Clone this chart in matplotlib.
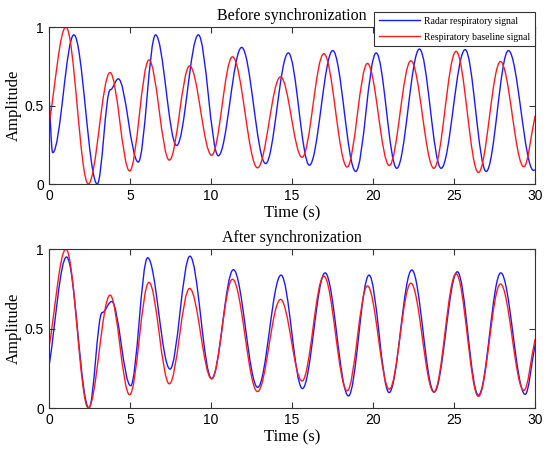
import matplotlib.pyplot as plt
from matplotlib.path import Path
from matplotlib.patches import PathPatch

# turning points (time in s, amplitude)
baseline_t = [0, 1.05, 2.43, 3.77, 4.98, 6.17, 7.43, 8.68, 10.04, 11.32, 12.87, 14.29,
              15.62, 16.96, 18.4, 19.65, 21.0, 22.33, 23.75, 25.12, 26.5, 27.86, 29.3, 30]
baseline_y = [0.38, 1.0, 0.0, 0.71, 0.083, 0.79, 0.152, 0.752, 0.183, 0.81, 0.103, 0.683,
              0.17, 0.83, 0.108, 0.768, 0.118, 0.785, 0.10, 0.845, 0.073, 0.78, 0.11, 0.435]

radar_before_t = [0, 0.23, 1.54, 2.98, 3.78, 4.28, 5.51, 6.58, 7.88, 9.22, 10.45, 11.89,
                  13.37, 14.77, 16.07, 17.51, 18.93, 20.19, 21.46, 22.86, 24.2, 25.68,
                  26.98, 28.35, 29.9, 30]
radar_before_y = [0.57, 0.20, 0.95, 0.0, 0.6, 0.67, 0.14, 0.95, 0.245, 0.95, 0.18, 0.87,
                  0.13, 0.835, 0.12, 0.85, 0.08, 0.835, 0.10, 0.86, 0.10, 0.856,
                  0.08, 0.85, 0.087, 0.09]

radar_after_t = [0, 1.09, 2.47, 3.28, 3.87, 5.04, 6.09, 7.47, 8.7, 10.04, 11.38, 12.88,
                 14.32, 15.64, 17.04, 18.48, 19.75, 20.99, 22.39, 23.77, 25.2, 26.5,
                 27.88, 29.38, 30]
radar_after_y = [0.26, 0.95, 0.0, 0.6, 0.67, 0.14, 0.945, 0.245, 0.955, 0.185, 0.87, 0.13,
                 0.836, 0.122, 0.85, 0.076, 0.836, 0.097, 0.868, 0.10, 0.857, 0.08,
                 0.85, 0.086, 0.40]

x_ticks = [0, 5, 10, 15, 20, 25, 30]
y_ticks = [0, 0.5, 1]
y_ticklabels = ['0', '0.5', '1']

SERIF = 'Liberation Serif'
SANS = 'Liberation Sans'


def smooth_path(ts, ys, k=0.36):
    """Cubic Bezier through the turning points, flat tangents at extrema."""
    verts = [(ts[0], ys[0])]
    codes = [Path.MOVETO]
    n = len(ts)
    for i in range(n - 1):
        t0, y0, t1, y1 = ts[i], ys[i], ts[i + 1], ys[i + 1]
        dt = t1 - t0
        if i == 0:
            c1 = (t0 + k * dt, y0 + k * (y1 - y0))
        else:
            c1 = (t0 + k * dt, y0)
        if i == n - 2:
            c2 = (t1 - k * dt, y1 - k * (y1 - y0))
        else:
            c2 = (t1 - k * dt, y1)
        verts += [c1, c2, (t1, y1)]
        codes += [Path.CURVE4] * 3
    return Path(verts, codes)


def style_axes(ax, title):
    ax.set_xlim(0, 30)
    ax.set_ylim(0, 1)
    ax.set_xticks(x_ticks)
    ax.set_yticks(y_ticks)
    ax.set_yticklabels(y_ticklabels)
    ax.tick_params(direction='in', top=True, right=True, length=4, width=0.8,
                   labelsize=10, color='#333333')
    for lbl in ax.get_xticklabels() + ax.get_yticklabels():
        lbl.set_fontfamily(SANS)
    for sp in ax.spines.values():
        sp.set_color('#333333')
        sp.set_linewidth(0.8)
    ax.set_title(title, fontsize=11.5, family=SERIF, pad=5)
    ax.set_xlabel('Time (s)', fontsize=12, family=SERIF, labelpad=2)
    ax.set_ylabel('Amplitude', fontsize=12, family=SERIF, labelpad=2)


fig = plt.figure(figsize=(5.5, 4.54), dpi=100)
ax1 = fig.add_axes([0.089, 0.5947, 0.884, 0.3458])
ax2 = fig.add_axes([0.089, 0.1013, 0.884, 0.3502])

for ax, radar_t, radar_y in [(ax1, radar_before_t, radar_before_y),
                             (ax2, radar_after_t, radar_after_y)]:
    ax.add_patch(PathPatch(smooth_path(radar_t, radar_y), fill=False,
                           edgecolor='#1a1aff', linewidth=1.0))
    ax.add_patch(PathPatch(smooth_path(baseline_t, baseline_y), fill=False,
                           edgecolor='#ff1a1a', linewidth=1.0))

style_axes(ax1, 'Before synchronization')
style_axes(ax2, 'After synchronization')

h1, = ax1.plot([], [], color='#1a1aff', linewidth=1.0, label='Radar respiratory signal')
h2, = ax1.plot([], [], color='#ff1a1a', linewidth=1.0, label='Respiratory baseline signal')
leg = ax1.legend(handles=[h1, h2], loc='upper right', bbox_to_anchor=(1.0, 1.096),
                 borderaxespad=0, fancybox=False, framealpha=1, edgecolor='#333333',
                 prop={'family': SERIF, 'size': 7}, handlelength=4.2,
                 handletextpad=0.4, borderpad=0.5, labelspacing=0.7)
leg.get_frame().set_linewidth(0.8)
leg.set_zorder(5)

fig.savefig('out.png', dpi=100)
